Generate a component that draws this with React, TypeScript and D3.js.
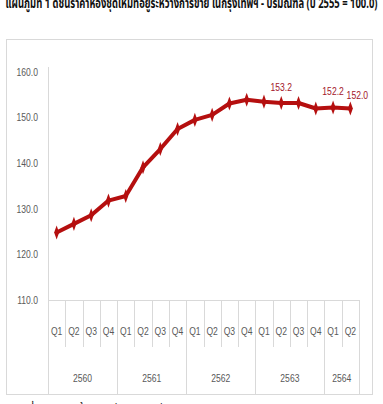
import React from "react";
import * as d3 from "d3";

const quarters = ["Q1","Q2","Q3","Q4","Q1","Q2","Q3","Q4","Q1","Q2","Q3","Q4","Q1","Q2","Q3","Q4","Q1","Q2"];
const years = ["2560","2561","2562","2563","2564"];
const yearSpans = [4, 4, 4, 4, 2];
const values = [124.8,126.7,128.6,131.8,132.8,139.1,143.1,147.5,149.5,150.6,153.1,153.9,153.5,153.2,153.2,152.0,152.2,152.0];
const labelIdx = [13, 16, 17];
const yTicks = [110, 120, 130, 140, 150, 160];
const title = "แผนภูมิที่ 1 ดัชนีราคาห้องชุดใหม่ที่อยู่ระหว่างการขาย ในกรุงเทพฯ - ปริมณฑล (ปี 2555 = 100.0)";
const source = "ที่มา : ศูนย์ข้อมูลอสังหาริมทรัพย์ ธนาคารอาคารสงเคราะห์";

const FONT = "'Liberation Sans', Arial, sans-serif";
const SX = 0.78;

function NText(props: { x: number; y: number; anchor?: string; fill: string; size?: number; children: React.ReactNode }) {
  return (
    <text transform={`translate(${props.x},${props.y}) scale(${SX},1)`} dy="0.35em" textAnchor={props.anchor || "middle"} fontFamily={FONT} fontSize={props.size || 11} fill={props.fill}>{props.children}</text>
  );
}

export default function App() {
  const W = 383, H = 404;
  const left = 48, right = 359, top = 72, axisY = 300;
  const x = d3.scaleBand<number>().domain(d3.range(quarters.length)).range([left, right]);
  const y = d3.scaleLinear().domain([110, 160]).range([axisY, top]);
  const cx = (i: number) => (x(i) as number) + x.bandwidth() / 2;
  const line = d3.line<number>().x((_, i) => cx(i)).y(d => y(d));
  const diamond = d3.symbol().type(d3.symbolDiamond).size(34)() as string;

  let acc = 0;
  const yearBounds = yearSpans.map(s => { const st = acc; acc += s; return [st, acc]; });

  return (
    <svg width={W} height={H} style={{ position: "absolute", left: 0, top: 0 }}>
      <rect width={W} height={H} fill="#fff" />
      <text x={W / 2} y={8} textAnchor="middle" fontFamily="'Noto Sans Thai', 'Noto Sans', sans-serif" fontWeight="bold" fontSize={14} fill="#111" textLength={372} lengthAdjust="spacingAndGlyphs">{title}</text>
      <rect x={6.5} y={39.5} width={366} height={355} fill="#fff" stroke="#d9d9d9" strokeWidth={1} />
      <line x1={left + 0.5} x2={left + 0.5} y1={67} y2={394} stroke="#d9d9d9" />
      <line x1={left} x2={right} y1={axisY + 0.5} y2={axisY + 0.5} stroke="#d9d9d9" />
      {quarters.map((_, i) => i > 0 ? (
        <line key={"t" + i} x1={Math.round(x(i) as number) + 0.5} x2={Math.round(x(i) as number) + 0.5} y1={axisY} y2={yearBounds.some(b => b[0] === i) ? 394 : 347} stroke="#d9d9d9" />
      ) : null)}
      <line x1={right + 0.5} x2={right + 0.5} y1={axisY} y2={394} stroke="#d9d9d9" />
      {yTicks.map(t => (
        <NText key={t} x={38} y={y(t)} anchor="end" fill="#595959">{t.toFixed(1)}</NText>
      ))}
      {quarters.map((q, i) => (
        <NText key={"q" + i} x={cx(i)} y={331} fill="#595959">{q}</NText>
      ))}
      {years.map((yr, k) => {
        const [s, e] = yearBounds[k];
        const mid = ((x(s) as number) + (x(e - 1) as number) + x.bandwidth()) / 2;
        return <NText key={yr} x={mid} y={378} fill="#595959">{yr}</NText>;
      })}
      <path d={line(values) as string} fill="none" stroke="#b50f0f" strokeWidth={4} strokeLinejoin="round" />
      {values.map((v, i) => (
        <path key={"m" + i} d={diamond} transform={`translate(${cx(i)},${y(v)}) scale(0.8,1.3)`} fill="#b50f0f" />
      ))}
      {labelIdx.map(i => (
        <NText key={"l" + i} x={cx(i) + (i === 17 ? 7 : 0)} y={y(values[i]) - (i === 17 ? 13 : 16)} fill="#a3162a">{values[i].toFixed(1)}</NText>
      ))}
      <text x={27} y={413} fontFamily="'Noto Sans Thai', 'Noto Sans', sans-serif" fontSize={12} fill="#111">{source}</text>
    </svg>
  );
}
